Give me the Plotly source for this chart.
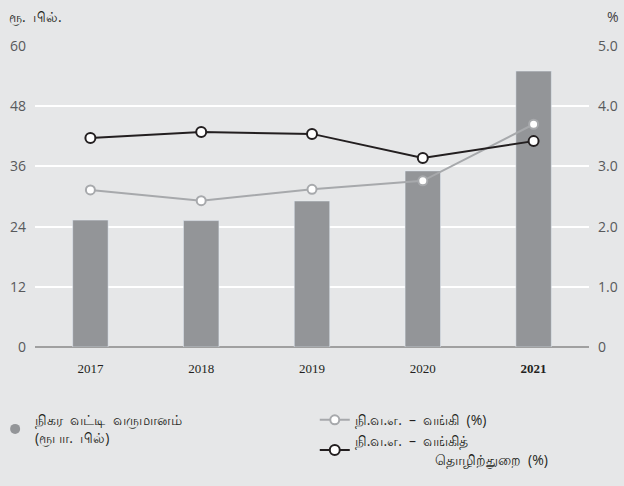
import plotly.graph_objects as go

years = ["2017", "2018", "2019", "2020", "2021"]
year_labels = ["2017", "2018", "2019", "2020", "<b>2021</b>"]
net_interest_income = [25.3, 25.2, 29.1, 35.1, 55.0]   # ரூ. பில்
nim_bank = [2.61, 2.43, 2.62, 2.76, 3.70]               # %
nim_industry = [3.47, 3.57, 3.54, 3.14, 3.42]           # %

left_ticks = [0, 12, 24, 36, 48, 60]
right_ticks = [0, 1, 2, 3, 4, 5]
right_ticktext = ["0", "1.0", "2.0", "3.0", "4.0", "5.0"]

bg = "#e6e7e8"
bar_color = "#939598"
font_sans = "Open Sans, Noto Sans, sans-serif"
nb = "\u00a0"

fig = go.Figure()

fig.add_trace(go.Bar(
    x=years, y=net_interest_income,
    marker_color=bar_color, width=0.32,
    showlegend=False,
))

# legend entry for the bars (round dot like the reference)
fig.add_trace(go.Scatter(
    x=[None], y=[None], mode="markers",
    name=f"நிகர{nb} வட்டி{nb} வருமானம்<br>(ரூபா.{nb} பில்)",
    marker=dict(size=10, color=bar_color),
    legend="legend",
))

fig.add_trace(go.Scatter(
    x=years, y=nim_bank, yaxis="y2", mode="lines+markers",
    name=f"நி.வ.எ.{nb} –{nb} வங்கி{nb} (%)",
    line=dict(color="#a7a9ac", width=2),
    marker=dict(size=9, color="white", line=dict(color="#a7a9ac", width=2)),
    legend="legend2",
))

fig.add_trace(go.Scatter(
    x=years, y=nim_industry, yaxis="y2", mode="lines+markers",
    name=f"நி.வ.எ.{nb} –{nb} வங்கித்<br>" + nb * 22 + f"தொழிற்துறை{nb} (%)",
    line=dict(color="#231f20", width=2),
    marker=dict(size=10, color="white", line=dict(color="#231f20", width=2)),
    legend="legend2",
))

fig.update_layout(
    width=624, height=486,
    margin=dict(l=35, r=35, t=46, b=139, autoexpand=False),
    paper_bgcolor=bg, plot_bgcolor=bg,
    font=dict(family=font_sans, size=14, color="#414042"),
    showlegend=True,
    xaxis=dict(
        tickvals=years, ticktext=year_labels,
        tickfont=dict(family="Liberation Serif, serif", size=13, color="#231f20"),
        showgrid=False, showline=False, zeroline=False, ticks="",
        ticklabelstandoff=12,
    ),
    yaxis=dict(
        range=[0, 60], tickvals=left_ticks,
        gridcolor="white", gridwidth=1.5,
        zeroline=True, zerolinecolor="#a0a0a0", zerolinewidth=1.5,
        showline=False, ticks="",
        tickfont=dict(size=14, color="#58595b"),
        ticklabelstandoff=8,
    ),
    yaxis2=dict(
        range=[0, 5], tickvals=right_ticks, ticktext=right_ticktext,
        overlaying="y", side="right", showgrid=False, zeroline=False,
        showline=False, ticks="",
        tickfont=dict(size=14, color="#58595b"),
        ticklabelstandoff=8,
    ),
    legend=dict(
        x=-0.072, y=-0.19, xanchor="left", yanchor="top",
        bgcolor="rgba(0,0,0,0)", font=dict(size=14, color="#231f20"),
        itemwidth=30,
    ),
    legend2=dict(
        x=0.505, y=-0.19, xanchor="left", yanchor="top",
        bgcolor="rgba(0,0,0,0)", font=dict(size=14, color="#231f20"),
        itemwidth=30, tracegroupgap=6,
    ),
    annotations=[
        dict(text=f"ரூ.{nb} பில்.", x=0, y=1.06, xref="paper", yref="paper",
             xanchor="left", yanchor="bottom", xshift=-28, showarrow=False,
             font=dict(size=14, color="#231f20")),
        dict(text="%", x=1, y=1.06, xref="paper", yref="paper",
             xanchor="right", yanchor="bottom", xshift=32, showarrow=False,
             font=dict(size=14, color="#414042")),
    ],
)

fig.write_html("out.html", config={"displayModeBar": False},
               post_script="document.body.style.margin='0';")
